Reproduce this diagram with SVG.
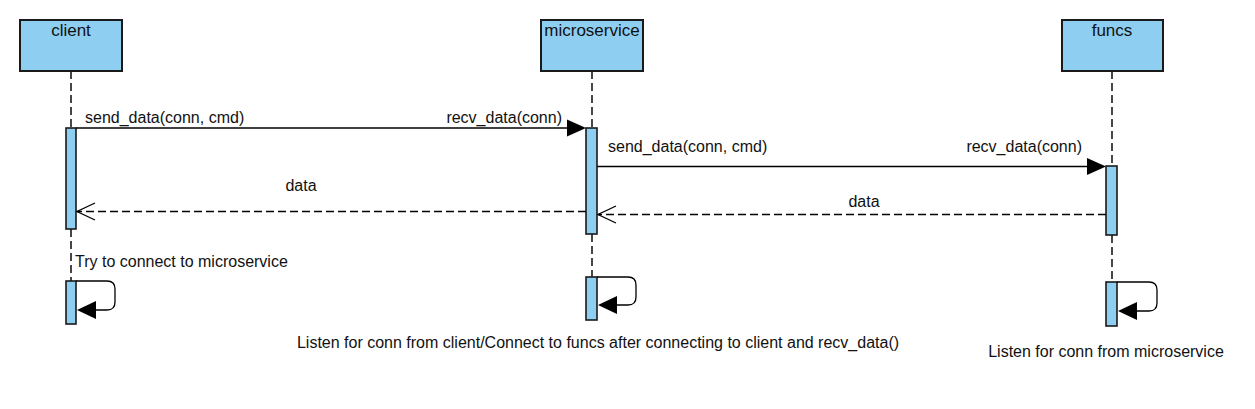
<svg xmlns="http://www.w3.org/2000/svg" width="1255" height="409" viewBox="0 0 1255 409">
<style>
  text { font-family: "Liberation Sans", Arial, sans-serif; fill: #111; }
  .title { font-size: 17px; text-anchor: middle; }
  .lbl { font-size: 16px; }
  .box { fill: #8ECFF1; stroke: #1a1a1a; stroke-width: 2; }
  .act { fill: #8ECFF1; stroke: #1a1a1a; stroke-width: 1.6; }
  .life { stroke: #1a1a1a; stroke-width: 1.6; stroke-dasharray: 8 4; fill: none; }
  .msg { stroke: #000; stroke-width: 1.3; fill: none; }
  .ret { stroke: #000; stroke-width: 1.3; fill: none; stroke-dasharray: 8 4; }
  .open { stroke: #000; stroke-width: 1.3; fill: none; }
  .head { fill: #000; stroke: none; }
</style>
<rect width="1255" height="409" fill="#fff"/>

<g id="client">
  <line class="life" x1="71" y1="71" x2="71" y2="128"/>
  <line class="life" x1="71" y1="229" x2="71" y2="281"/>
  <rect class="box" x="20" y="20" width="102" height="51"/>
  <text class="title" x="71" y="36">client</text>
  <rect class="act" x="66" y="128" width="10" height="101"/>
  <rect class="act" x="66" y="281" width="10" height="43"/>
</g>

<g id="microservice">
  <line class="life" x1="592" y1="71" x2="592" y2="128"/>
  <line class="life" x1="592" y1="234" x2="592" y2="277"/>
  <rect class="box" x="541" y="20" width="102" height="51"/>
  <text class="title" x="592" y="36">microservice</text>
  <rect class="act" x="586" y="128" width="11" height="106"/>
  <rect class="act" x="586" y="277" width="11" height="43"/>
</g>

<g id="funcs">
  <line class="life" x1="1112" y1="71" x2="1112" y2="166"/>
  <line class="life" x1="1112" y1="235" x2="1112" y2="282"/>
  <rect class="box" x="1062" y="20" width="101" height="51"/>
  <text class="title" x="1112" y="36">funcs</text>
  <rect class="act" x="1106" y="166" width="11" height="69"/>
  <rect class="act" x="1106" y="282" width="11" height="44"/>
</g>

<g id="connectors">
  <!-- client -> microservice -->
  <line class="msg" x1="76" y1="128" x2="568" y2="128"/>
  <polygon class="head" points="586,128 567,119.5 567,136.5"/>
  <text class="lbl" x="85" y="123">send_data(conn, cmd)</text>
  <text class="lbl" x="562" y="123" text-anchor="end">recv_data(conn)</text>

  <!-- microservice -> funcs -->
  <line class="msg" x1="597" y1="166.5" x2="1088" y2="166.5"/>
  <polygon class="head" points="1106,166.5 1087,158 1087,175"/>
  <text class="lbl" x="608" y="152">send_data(conn, cmd)</text>
  <text class="lbl" x="1082" y="152" text-anchor="end">recv_data(conn)</text>

  <!-- microservice -> client return -->
  <line class="ret" x1="586" y1="211.5" x2="77" y2="211.5"/>
  <polyline class="open" points="95,203 77,211.5 95,220"/>
  <text class="lbl" x="301" y="191" text-anchor="middle">data</text>

  <!-- funcs -> microservice return -->
  <line class="ret" x1="1106" y1="214.5" x2="598" y2="214.5"/>
  <polyline class="open" points="616,206 598,214.5 616,223"/>
  <text class="lbl" x="864" y="207" text-anchor="middle">data</text>

  <!-- self loops -->
  <path class="msg" d="M76,281 H107 Q115,281 115,289 V302 Q115,310 107,310 H95"/>
  <polygon class="head" points="77,310 96,301 96,319"/>
  <text class="lbl" x="75" y="267">Try to connect to microservice</text>

  <path class="msg" d="M597,277 H628 Q636,277 636,285 V297 Q636,305 628,305 H615"/>
  <polygon class="head" points="598,305 617,296 617,314"/>
  <text class="lbl" x="598" y="348" text-anchor="middle">Listen for conn from client/Connect to funcs after connecting to client and recv_data()</text>

  <path class="msg" d="M1117,282 H1149 Q1157,282 1157,290 V303 Q1157,311 1149,311 H1136"/>
  <polygon class="head" points="1118,311 1137,302 1137,320"/>
  <text class="lbl" x="1106" y="357" text-anchor="middle">Listen for conn from microservice</text>
</g>
</svg>
